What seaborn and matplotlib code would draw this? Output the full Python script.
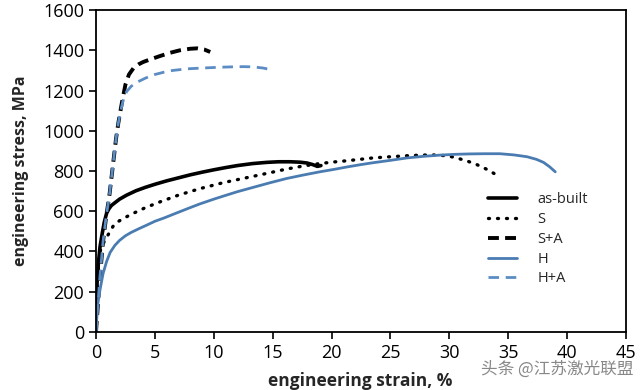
import matplotlib
matplotlib.use("Agg")
import matplotlib.pyplot as plt
import seaborn as sns
import pandas as pd

# ---- data ----
asbuilt_x = [0, 0.05, 0.1, 0.2, 0.34, 0.5, 0.7, 0.9, 1.1, 1.3, 1.6, 2.0, 2.6, 3.4, 4.2, 5.0, 6.0, 7.0, 8.0, 9.0,
             10.0, 11.0, 12.0, 13.3, 14.5, 15.5, 16.5, 17.3, 17.9, 18.4, 18.8, 19.1]
asbuilt_y = [0, 150, 260, 340, 423, 480, 545, 590, 612, 628, 642, 660, 680, 702, 719, 734, 751, 766, 781, 794,
             806, 817, 827, 837, 843, 846, 846, 844, 840, 832, 823, 827]

s_x = [0, 0.1, 0.34, 0.7, 1.0, 1.2, 1.45, 1.7, 2.2, 3.0, 4.2, 5.5, 7.0, 8.8, 10.8, 12.0, 13.3, 14.8, 16.2, 17.6,
       19.0, 20.2, 21.3, 22.4, 23.5, 25.0, 26.4, 27.6, 28.6, 29.5, 30.2, 30.8, 31.5, 32.3, 33.2, 34.0]
s_y = [0, 260, 400, 450, 480, 500, 525, 542, 560, 585, 618, 648, 680, 712, 742, 757, 773, 792, 810, 825,
       837, 845, 851, 858, 865, 871, 876, 879, 880, 877, 871, 862, 850, 833, 808, 781]

sa_x = [0, 0.3, 0.6, 0.9, 1.1, 1.3, 1.5, 1.7, 1.9, 2.2, 2.5, 2.8, 3.2, 3.6, 4.0, 4.6, 5.5, 6.3, 7.1, 8.0,
        8.6, 9.2, 9.7]
sa_y = [0, 250, 450, 590, 660, 760, 860, 960, 1040, 1140, 1230, 1280, 1313, 1330, 1342, 1355, 1373, 1388, 1400, 1408,
        1410, 1404, 1392]

h_x = [0, 0.1, 0.34, 0.6, 0.9, 1.2, 1.6, 2.0, 2.5, 3.0, 3.6, 4.2, 5.0, 5.8, 7.0, 8.0, 8.8, 10.0, 10.8, 12.0,
       13.3, 14.8, 16.2, 17.6, 19.0, 20.2, 21.3, 22.4, 23.5, 25.0, 26.4, 27.8, 29.2, 30.5, 31.7, 33.0, 34.3,
       35.5, 36.6, 37.4, 38.0, 38.5, 39.0]
h_y = [0, 120, 209, 290, 350, 395, 430, 455, 478, 495, 512, 528, 550, 567, 595, 618, 636, 660, 675, 697,
       718, 742, 763, 780, 796, 808, 820, 831, 841, 853, 865, 873, 879, 883, 885, 886, 886,
       880, 871, 858, 843, 822, 796]

ha_x = [0, 0.3, 0.6, 0.9, 1.1, 1.3, 1.5, 1.7, 1.9, 2.1, 2.3, 2.6, 3.0, 3.5, 4.2, 5.0, 5.8, 6.5, 7.7, 9.0,
        10.5, 11.6, 12.5, 13.3, 14.2, 15.0]
ha_y = [0, 250, 450, 590, 660, 760, 860, 960, 1040, 1100, 1150, 1195, 1222, 1242, 1262, 1280, 1292, 1300, 1308, 1312,
        1316, 1318, 1319, 1318, 1312, 1302]

labels = ["as-built", "S", "S+A", "H", "H+A"]
x_ticks = [0, 5, 10, 15, 20, 25, 30, 35, 40, 45]
y_ticks = [0, 200, 400, 600, 800, 1000, 1200, 1400, 1600]

series = {
    "as-built": (asbuilt_x, asbuilt_y),
    "S": (s_x, s_y),
    "S+A": (sa_x, sa_y),
    "H": (h_x, h_y),
    "H+A": (ha_x, ha_y),
}
frames = []
for name, (xs, ys) in series.items():
    frames.append(pd.DataFrame({"strain": xs, "stress": ys, "series": name}))
df = pd.concat(frames, ignore_index=True)

sns.set_theme(style="white")
plt.rcParams["font.family"] = ["Open Sans", "DejaVu Sans"]

fig = plt.figure(figsize=(6.4, 3.9), dpi=100)
ax = fig.add_axes([0.15, 0.149, 0.828, 0.825])

blue = "#4a7cb2"
styles = {
    "as-built": dict(color="black", lw=2.6, linestyle="-"),
    "S": dict(color="black", lw=2.4, linestyle=(0, (0.3, 2.4)), round=True),
    "S+A": dict(color="black", lw=2.8, linestyle=(0, (2.8, 1.6))),
    "H": dict(color=blue, lw=2.0, linestyle="-"),
    "H+A": dict(color="#5b8cc4", lw=2.0, linestyle=(0, (3.8, 2.4))),
}
for name in labels:
    sub = df[df["series"] == name]
    st = styles[name]
    sns.lineplot(data=sub, x="strain", y="stress", ax=ax, sort=False, estimator=None,
                 label=name, color=st["color"], lw=st["lw"], linestyle=st["linestyle"])
    ax.lines[-1].set_solid_joinstyle("round")
    if st.get("round"):
        ax.lines[-1].set_dash_capstyle("round")

ax.set_xlim(0, 45)
ax.set_ylim(0, 1600)
ax.set_xticks(x_ticks)
ax.set_yticks(y_ticks)
ax.tick_params(axis="both", labelsize=13, direction="out", length=5, width=1.2,
               colors="black", bottom=True, left=True)
for sp in ax.spines.values():
    sp.set_color("black")
    sp.set_linewidth(1.3)

ax.set_xlabel("engineering strain, %", fontsize=12.5, fontweight="bold")
ax.xaxis.set_label_coords(0.498, -0.125)
ax.set_ylabel("engineering stress, MPa", fontsize=11.5, fontweight="bold", labelpad=10)

leg = ax.legend(loc="upper left", bbox_to_anchor=(0.715, 0.475), frameon=False,
                fontsize=10.5, handlelength=2.0, labelspacing=0.33, handletextpad=1.4)

fig.text(0.752, 0.042, "头条 @江苏激光联盟", fontsize=12, color="#888888",
         family=["Noto Sans CJK SC", "DejaVu Sans"])

fig.savefig("out.png", dpi=100)
